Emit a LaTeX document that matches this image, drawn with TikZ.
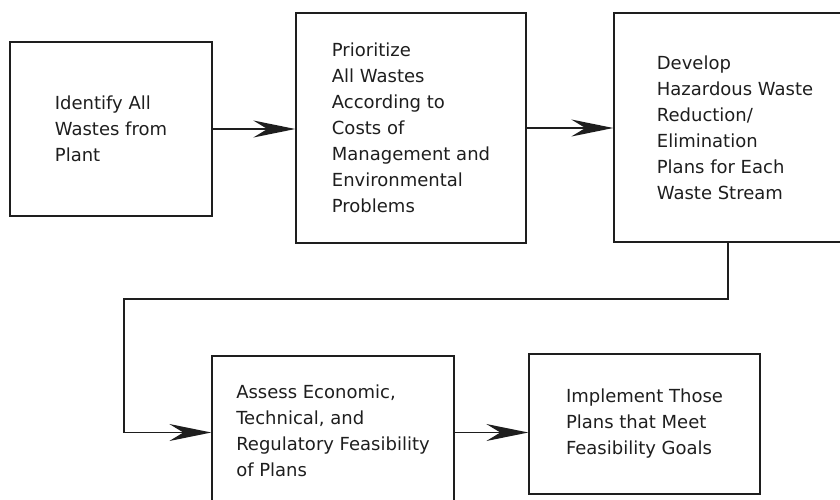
\documentclass[tikz,border=0pt]{standalone}
\usepackage{fontspec}
\setmainfont{DejaVu Sans}
\usepackage{tikz}
\usetikzlibrary{arrows.meta,positioning,calc}
\definecolor{inkGray}{HTML}{1E1E1E}

\begin{document}
\begin{tikzpicture}[x=1pt,y=-1pt,
  font=\fontsize{18}{26}\selectfont,
  box/.style={draw=inkGray, line width=1.3pt, align=left, text=inkGray,
    inner sep=0pt},
  flow/.style={draw=inkGray, line width=1.6pt,
    -{Stealth[length=42pt,width=17pt,inset=14pt]}}]
\useasboundingbox (0,0) rectangle (840,499);
% top row
\node[box, minimum width=202pt, minimum height=174pt] (b1) at (111,129)
  {Identify All\\Wastes from\\Plant};
\node[box, minimum width=230pt, minimum height=230pt] (b2) at (411,128)
  {Prioritize\\All Wastes\\According to\\Costs of\\Management and\\Environmental\\Problems};
\node[box, minimum width=242pt, minimum height=229pt] (b3) at (735,127.5)
  {Develop\\Hazardous Waste\\Reduction/\\Elimination\\Plans for Each\\Waste Stream};
% bottom row
\node[box, minimum width=242pt, minimum height=149pt] (b4) at (333,430.5)
  {Assess Economic,\\Technical, and\\Regulatory Feasibility\\of Plans};
\node[box, minimum width=231pt, minimum height=140pt] (b5) at (644.5,424)
  {Implement Those\\Plans that Meet\\Feasibility Goals};
% connectors
\coordinate (turn) at (124,299);
\draw[flow] (b1.east) -- (b1.east -| b2.west);
\draw[flow] (b2.east) -- (b2.east -| b3.west);
\draw[flow] ([xshift=-7pt]b3.south) |- (turn) |- ([yshift=-2pt]b4.west);
\draw[flow] ([yshift=-2pt]b4.east) -- ([yshift=-2pt]b4.east -| b5.west);
\end{tikzpicture}
\end{document}
